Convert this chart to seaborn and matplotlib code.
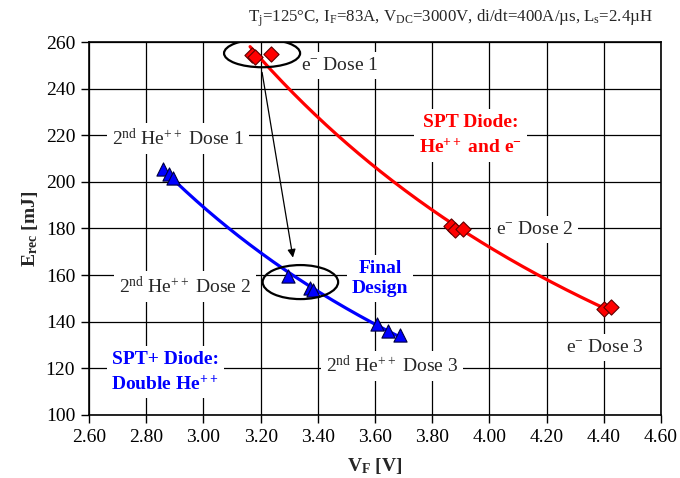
import numpy as np
import pandas as pd
import matplotlib
matplotlib.use("Agg")
import matplotlib.pyplot as plt
from matplotlib.patches import Ellipse
import seaborn as sns

# ---- data ----
spt_vf = [3.17, 3.18, 3.235, 3.865, 3.878, 3.906, 4.40, 4.424]
spt_erec = [254.5, 253.8, 254.7, 180.9, 179.4, 179.7, 145.4, 146.3]
sptp_vf = [2.860, 2.881, 2.894, 3.294, 3.372, 3.382, 3.608, 3.647, 3.687]
sptp_erec = [205.4, 203.4, 201.6, 159.8, 154.3, 153.8, 139.0, 136.1, 134.3]
x_ticks = [2.60, 2.80, 3.00, 3.20, 3.40, 3.60, 3.80, 4.00, 4.20, 4.40, 4.60]
y_ticks = [100, 120, 140, 160, 180, 200, 220, 240, 260]

sns.set_theme(style="white")
plt.rcParams["font.family"] = ["Liberation Serif", "DejaVu Serif"]
plt.rcParams["mathtext.fontset"] = "custom"
plt.rcParams["mathtext.rm"] = "Liberation Serif"
plt.rcParams["mathtext.it"] = "Liberation Serif:italic"
plt.rcParams["mathtext.bf"] = "Liberation Serif:bold"

fig = plt.figure(figsize=(6.8, 4.78), dpi=100)
ax = fig.add_axes([0.131, 0.132, 0.841, 0.780])

df_r = pd.DataFrame({"VF": spt_vf, "E": spt_erec})
df_b = pd.DataFrame({"VF": sptp_vf, "E": sptp_erec})

def power_fit(x, y, x0, x1):
    b, loga = np.polyfit(np.log(x), np.log(y), 1)
    xs = np.linspace(x0, x1, 200)
    return pd.DataFrame({"VF": xs, "E": np.exp(loga) * xs ** b})

fit_r = power_fit(np.array(spt_vf), np.array(spt_erec), 3.163, 4.42)
fit_b = power_fit(np.array(sptp_vf), np.array(sptp_erec), 2.868, 3.69)

ax.grid(True, color="black", linewidth=0.9)
ax.set_axisbelow(True)

sns.lineplot(data=fit_r, x="VF", y="E", color="#ff0000", linewidth=2.3, ax=ax, zorder=3)
sns.lineplot(data=fit_b, x="VF", y="E", color="#0000ff", linewidth=2.3, ax=ax, zorder=3)
sns.scatterplot(data=df_r, x="VF", y="E", marker="D", s=60, color="#ff0000",
                edgecolor="#600000", linewidth=0.8, ax=ax, zorder=4)
sns.scatterplot(data=df_b, x="VF", y="E", marker="^", s=90, color="#0000ff",
                edgecolor="#000040", linewidth=0.8, ax=ax, zorder=4)

ax.set_xlim(2.6, 4.6)
ax.set_ylim(100, 260)
ax.set_xticks(x_ticks)
ax.set_xticklabels([f"{v:.2f}" for v in x_ticks])
ax.set_yticks(y_ticks)
ax.set_yticklabels([str(v) for v in y_ticks])
ax.tick_params(axis="both", labelsize=14, colors="black", direction="out",
               length=6, width=1, bottom=True, left=True, pad=4)
for sp in ax.spines.values():
    sp.set_color("black")
    sp.set_linewidth(1.2)

ax.set_xlabel(r"V$_{\mathbf{F}}$ [V]", fontsize=14, fontweight="bold", labelpad=7)
ax.set_ylabel(r"E$_{\mathbf{rec}}$ [mJ]", fontsize=14, fontweight="bold", labelpad=4)

fig.text(0.662, 0.962,
         r"T$_{\mathrm{j}}$=125°C, I$_{\mathrm{F}}$=83A, V$_{\mathrm{DC}}$=3000V, di/dt=400A/µs, L$_{\mathrm{s}}$=2.4µH",
         ha="center", va="center", fontsize=12.2)

box = dict(boxstyle="square,pad=0.25", facecolor="white", edgecolor="none")
kw = dict(ha="center", va="center", fontsize=14, bbox=box, zorder=5)
ax.text(3.478, 250.0, r"e$^{-}$ Dose 1", **kw)
ax.text(4.159, 179.7, r"e$^{-}$ Dose 2", **kw)
ax.text(4.404, 129.0, r"e$^{-}$ Dose 3", **kw)
ax.text(2.911, 218.8, r"2$^{\mathrm{nd}}$ He$^{++}$ Dose 1", **kw)
ax.text(2.936, 155.3, r"2$^{\mathrm{nd}}$ He$^{++}$ Dose 2", **kw)
ax.text(3.659, 121.0, r"2$^{\mathrm{nd}}$ He$^{++}$ Dose 3", **kw)
ax.text(3.935, 220.0, "SPT Diode:\n" + r"He$^{\mathbf{++}}$ and e$^{\mathbf{-}}$",
        color="#ff0000", fontweight="bold", linespacing=1.5, **kw)
ax.text(3.617, 158.5, "Final\nDesign", color="#0000ff", fontweight="bold",
        linespacing=1.2, **kw)
ax.text(2.866, 118.4, "SPT+ Diode:\n" + r"Double He$^{\mathbf{++}}$",
        color="#0000ff", fontweight="bold", linespacing=1.5, **kw)

ax.add_patch(Ellipse((3.205, 255.2), 0.266, 12.0, facecolor="none",
                     edgecolor="black", linewidth=1.6, zorder=6))
ax.add_patch(Ellipse((3.339, 157.0), 0.264, 14.6, facecolor="none",
                     edgecolor="black", linewidth=1.6, zorder=6))
ax.annotate("", xy=(3.313, 167.5), xytext=(3.205, 247.0),
            arrowprops=dict(arrowstyle="-|>", color="black", lw=0.9,
                            mutation_scale=12, shrinkA=0, shrinkB=0), zorder=6)

fig.savefig("out.png", dpi=100)
